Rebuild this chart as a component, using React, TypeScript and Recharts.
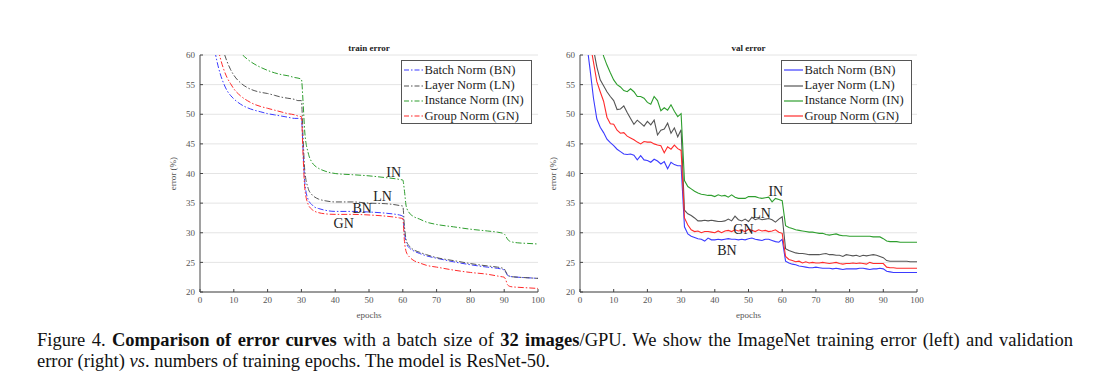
import { CartesianGrid, Legend, Line, LineChart, ReferenceDot, XAxis, YAxis } from "recharts";

const SERIF = "'Liberation Serif', 'Times New Roman', serif";

const norms = ["bn", "ln", "inn", "gn"];
const normNames = ["Batch Norm (BN)", "Layer Norm (LN)", "Instance Norm (IN)", "Group Norm (GN)"];
const normColors = ["#3b3bff", "#555555", "#2e9e2e", "#ff2b2b"];
const xTicks = [0, 10, 20, 30, 40, 50, 60, 70, 80, 90, 100];
const yTicks = [20, 25, 30, 35, 40, 45, 50, 55, 60];

// train error, smooth curves
const trainEpochs = [
  1, 2, 3, 4, 5, 6, 7, 8, 9, 10, 12, 14, 16, 18, 20, 22, 24, 26, 28, 29, 30, 30.5, 31, 32, 33, 34, 35, 37, 40, 45,
  50, 55, 58, 59, 60, 60.5, 61, 62, 63, 65, 67, 70, 75, 80, 85, 88, 89, 90, 90.5, 91, 92, 94, 97, 100,
];
const trainBN = [
  80, 72, 66, 62, 59, 56.8, 55.2, 54.0, 53.2, 52.6, 51.7, 51.1, 50.7, 50.4, 50.1, 49.9, 49.7, 49.5, 49.3, 49.3, 49.2,
  44, 38.5, 35.6, 34.8, 34.3, 34.1, 33.8, 33.6, 33.6, 33.5, 33.3, 33.1, 33.0, 32.8, 30, 28.3, 27.4, 27.0, 26.5, 26.1,
  25.7, 25.1, 24.6, 24.2, 24.0, 23.9, 23.7, 23.3, 22.8, 22.6, 22.5, 22.4, 22.3,
];
const trainLN = [
  85, 78, 72, 68, 64.5, 62, 60.5, 58.9, 57.6, 56.6, 55.3, 54.5, 54.0, 53.7, 53.5, 53.2, 52.9, 52.7, 52.5, 52.3, 52.3,
  46, 40.5, 37.5, 36.5, 36.0, 35.7, 35.4, 35.2, 35.2, 35.0, 34.9, 34.7, 34.6, 34.5, 31, 28.8, 27.7, 27.2, 26.7, 26.3,
  25.8, 25.3, 24.8, 24.4, 24.2, 24.1, 23.9, 23.4, 22.9, 22.6, 22.5, 22.4, 22.3,
];
const trainIN = [
  92, 85, 80, 76, 72.5, 69.5, 67, 65, 63.5, 62.2, 60.4, 59.3, 58.5, 57.9, 57.4, 57.0, 56.7, 56.5, 56.2, 56.1, 55.9,
  52, 47, 43.5, 42.0, 41.3, 40.9, 40.4, 40.0, 39.8, 39.6, 39.3, 39.1, 39.0, 38.9, 37, 34.5, 33.3, 32.8, 32.3, 31.8,
  31.4, 31.0, 30.6, 30.3, 30.1, 30.0, 29.8, 29.4, 28.9, 28.5, 28.3, 28.2, 28.1,
];
const trainGN = [
  82, 75, 69, 65, 62, 59.5, 57.6, 56.2, 55.2, 54.3, 53.1, 52.3, 51.7, 51.3, 51.0, 50.7, 50.4, 50.1, 49.9, 49.7, 49.6,
  43, 37.5, 34.8, 34.0, 33.6, 33.4, 33.2, 33.1, 33.1, 33.0, 32.8, 32.6, 32.5, 32.4, 28.5, 26.8, 25.9, 25.4, 24.9, 24.5,
  24.2, 23.7, 23.3, 23.0, 22.7, 22.6, 22.5, 22.0, 21.2, 20.9, 20.8, 20.7, 20.6,
];

// val error, one point per epoch
const valEpochs = Array.from({ length: 100 }, (_, i) => i + 1);
const valBN = [
  80, 62, 57.5, 52.7, 49.2, 47.8, 46.9, 45.8, 45.2, 44.7, 44.1, 43.7, 43.3, 43.2, 43.3, 43.1, 42.3, 43.0, 42.3, 42.2,
  41.9, 42.4, 42.1, 41.6, 42.0, 40.8, 41.9, 41.5, 41.3, 41.3, 31.0, 29.8, 29.4, 29.2, 29.0, 28.9, 28.6, 29.1, 28.8, 28.8,
  28.9, 28.8, 28.9, 29.0, 28.9, 28.9, 28.8, 28.9, 28.8, 29.0, 29.1, 28.9, 28.8, 28.7, 28.9, 28.9, 28.7, 28.5, 28.4, 28.9,
  25.2, 24.9, 24.7, 24.6, 24.4, 24.3, 24.2, 24.1, 24.1, 24.2, 24.1, 24.0, 24.0, 24.0, 23.9, 24.0, 23.9, 23.8, 23.9, 23.9,
  23.9, 23.9, 24.0, 24.0, 23.9, 23.8, 23.9, 23.9, 24.0, 23.9, 23.5, 23.4, 23.3, 23.3, 23.3, 23.3, 23.3, 23.3, 23.3, 23.3,
];
const valLN = [
  90, 75, 66, 61, 58, 55.8, 54.8, 53.8, 53.0, 52.3, 50.8, 50.9, 51.4, 50.3, 49.3, 48.3, 49.0, 48.5, 48.0, 48.8,
  48.2, 49.0, 46.5, 47.3, 47.5, 48.5, 46.8, 47.7, 46.2, 47.4, 33.8, 33.2, 32.9, 32.5, 32.0, 32.0, 32.1, 32.0, 32.1, 32.0,
  31.9, 31.9, 32.0, 32.3, 32.0, 32.8, 32.2, 32.0, 32.3, 31.9, 32.6, 32.2, 32.4, 32.2, 32.3, 32.4, 32.2, 31.8, 32.3, 32.7,
  27.3, 27.0, 26.8, 26.6, 26.5, 26.5, 26.4, 26.3, 26.3, 26.3, 26.3, 26.4, 26.5, 26.3, 26.3, 26.2, 26.2, 26.0, 26.3, 26.2,
  26.1, 26.2, 26.0, 26.2, 26.1, 26.2, 26.3, 26.2, 26.0, 25.8, 25.3, 25.2, 25.2, 25.2, 25.2, 25.2, 25.2, 25.1, 25.1, 25.1,
];
const valIN = [
  95, 85, 77, 71, 66, 62.5, 59.8, 58.3, 57.0, 55.8, 55.0, 54.6, 54.0, 53.8, 54.3, 53.8, 53.0, 53.0, 52.7, 52.0,
  51.7, 53.0, 52.3, 50.6, 51.1, 50.7, 51.6, 50.5, 49.6, 50.1, 38.8, 37.8, 37.4, 37.0, 36.7, 36.5, 36.4, 36.3, 36.3, 36.1,
  36.4, 36.2, 36.3, 36.0, 36.4, 36.0, 35.8, 35.8, 35.8, 36.1, 36.1, 36.1, 35.9, 35.8, 35.9, 36.0, 35.2, 35.8, 35.6, 35.4,
  31.2, 30.9, 30.7, 30.5, 30.4, 30.3, 30.2, 30.1, 30.1, 30.0, 29.9, 29.9, 29.7, 29.6, 29.7, 29.8, 29.6, 29.5, 29.5, 29.4,
  29.4, 29.4, 29.4, 29.4, 29.4, 29.4, 29.3, 29.3, 29.3, 29.0, 28.6, 28.5, 28.5, 28.5, 28.4, 28.4, 28.4, 28.4, 28.4, 28.4,
];
const valGN = [
  85, 70, 62, 58.8, 55.5, 53.8, 52.2, 49.5, 48.4, 48.3, 47.3, 46.8, 46.9, 46.3, 46.0, 45.7, 45.3, 45.0, 45.4, 45.3,
  45.3, 45.0, 44.8, 44.7, 43.5, 44.5, 44.1, 44.8, 44.2, 43.9, 32.5, 31.3, 30.5, 30.2, 30.3, 30.0, 30.2, 30.2, 30.1, 30.0,
  30.3, 30.0, 30.3, 30.4, 30.2, 30.5, 30.3, 30.4, 30.2, 30.6, 30.4, 30.2, 30.5, 30.3, 30.4, 30.2, 30.3, 30.5, 30.1, 29.9,
  26.0, 25.5, 25.3, 25.1, 25.2, 24.9, 25.1, 24.9, 25.0, 24.9, 24.9, 25.0, 24.9, 24.8, 24.9, 25.0, 24.8, 24.7, 24.8, 24.8,
  24.9, 24.8, 24.9, 24.8, 24.7, 25.0, 24.8, 24.8, 24.8, 24.8, 24.2, 24.1, 24.1, 24.0, 24.0, 24.0, 24.0, 24.0, 24.0, 24.0,
];

// in-plot labels: [text, epoch, error]
const trainTags: [string, number, number][] = [
  ["IN", 57.3, 40.3],
  ["LN", 54, 36.2],
  ["BN", 48, 34.1],
  ["GN", 42.5, 31.7],
];
const valTags: [string, number, number][] = [
  ["IN", 58.1, 37.1],
  ["LN", 53.9, 33.4],
  ["GN", 48.5, 30.7],
  ["BN", 43.6, 27.0],
];

const trainData = trainEpochs.map((epoch, i) => ({
  epoch,
  bn: trainBN[i],
  ln: trainLN[i],
  inn: trainIN[i],
  gn: trainGN[i],
}));
const valData = valEpochs.map((epoch, i) => ({
  epoch,
  bn: valBN[i],
  ln: valLN[i],
  inn: valIN[i],
  gn: valGN[i],
}));

const DASH = "6 2 1.5 2";

function NormLegend({ dashed }: { dashed: boolean }) {
  return (
    <div
      style={{
        border: "1px solid #555",
        background: "#fff",
        width: 131,
        height: 64,
        boxSizing: "border-box",
        paddingTop: 1.5,
        fontFamily: SERIF,
        fontSize: 12.6,
        color: "#222",
      }}
    >
      {normNames.map((name, i) => (
        <div key={name} style={{ display: "flex", alignItems: "center", height: 15.4, whiteSpace: "nowrap" }}>
          <svg width={21} height={6} style={{ marginLeft: 1.5 }}>
            <line
              x1={0}
              y1={3}
              x2={19}
              y2={3}
              stroke={normColors[i]}
              strokeWidth={1.2}
              strokeDasharray={dashed ? "5 2 1.5 2" : undefined}
            />
          </svg>
          <span>{name}</span>
        </div>
      ))}
    </div>
  );
}

function ErrorPanel({
  data,
  tags,
  dashed,
  right,
}: {
  data: typeof trainData;
  tags: [string, number, number][];
  dashed: boolean;
  right: number;
}) {
  const tickStyle = { fontSize: 9, fill: "#555", fontFamily: SERIF };
  return (
    <LineChart width={400} height={290} data={data} margin={{ top: 17, right, bottom: 6, left: 0 }}>
      <CartesianGrid vertical={false} stroke="#e4e4e4" />
      <XAxis
        dataKey="epoch"
        type="number"
        domain={[0, 100]}
        ticks={xTicks}
        height={30}
        tickSize={-3}
        tickMargin={8}
        stroke="#444"
        tick={tickStyle}
        label={{ value: "epochs", position: "insideBottom", offset: 4, fontSize: 9, fill: "#555", fontFamily: SERIF }}
      />
      <YAxis
        type="number"
        domain={[20, 60]}
        ticks={yTicks}
        allowDataOverflow
        width={50}
        tickSize={-3}
        tickMargin={8}
        stroke="#444"
        tick={tickStyle}
        label={{
          value: "error (%)",
          angle: -90,
          position: "insideLeft",
          offset: 23,
          fontSize: 9,
          fill: "#555",
          fontFamily: SERIF,
          style: { textAnchor: "middle" },
        }}
      />
      {norms.map((key, i) => (
        <Line
          key={key}
          dataKey={key}
          name={normNames[i]}
          type={dashed ? "monotone" : "linear"}
          stroke={normColors[i]}
          strokeWidth={dashed ? 1 : 1.1}
          strokeDasharray={dashed ? DASH : undefined}
          dot={false}
          activeDot={false}
          isAnimationActive={false}
        />
      ))}
      {tags.map(([text, x, y]) => (
        <ReferenceDot
          key={text}
          x={x}
          y={y}
          r={0}
          fill="none"
          stroke="none"
          label={{ value: text, position: "center", fontSize: 14, fill: "#222", fontFamily: SERIF }}
        />
      ))}
      <Legend
        layout="vertical"
        align="center"
        verticalAlign="middle"
        wrapperStyle={{ left: 251, top: 22, width: 131, height: 64 }}
        content={() => <NormLegend dashed={dashed} />}
      />
    </LineChart>
  );
}

const titleStyle = {
  position: "absolute" as const,
  top: 42,
  fontSize: 9,
  lineHeight: "12px",
  fontWeight: "bold" as const,
  textAlign: "center" as const,
  fontFamily: SERIF,
  color: "#222",
};

export default function App() {
  return (
    <div
      style={{
        position: "absolute",
        left: 0,
        top: 0,
        width: 1107,
        height: 389,
        background: "#fff",
        fontFamily: SERIF,
        overflow: "hidden",
      }}
    >
      <div style={{ ...titleStyle, left: 200, width: 338 }}>train error</div>
      <div style={{ ...titleStyle, left: 580, width: 337 }}>val error</div>
      <div style={{ position: "absolute", left: 150, top: 38 }}>
        <ErrorPanel data={trainData} tags={trainTags} dashed right={12} />
      </div>
      <div style={{ position: "absolute", left: 530, top: 38 }}>
        <ErrorPanel data={valData} tags={valTags} dashed={false} right={13} />
      </div>
      <div
        style={{
          position: "absolute",
          left: 37,
          top: 330,
          width: 1036,
          fontSize: 18.5,
          lineHeight: "21px",
          color: "#111",
        }}
      >
        <div style={{ textAlign: "justify", textAlignLast: "justify", whiteSpace: "nowrap" }}>
          Figure 4. <b>Comparison of error curves</b> with a batch size of <b>32 images</b>/GPU. We show the ImageNet
          training error (left) and validation
        </div>
        <div>
          error (right) <i>vs</i>. numbers of training epochs. The model is ResNet-50.
        </div>
      </div>
    </div>
  );
}
